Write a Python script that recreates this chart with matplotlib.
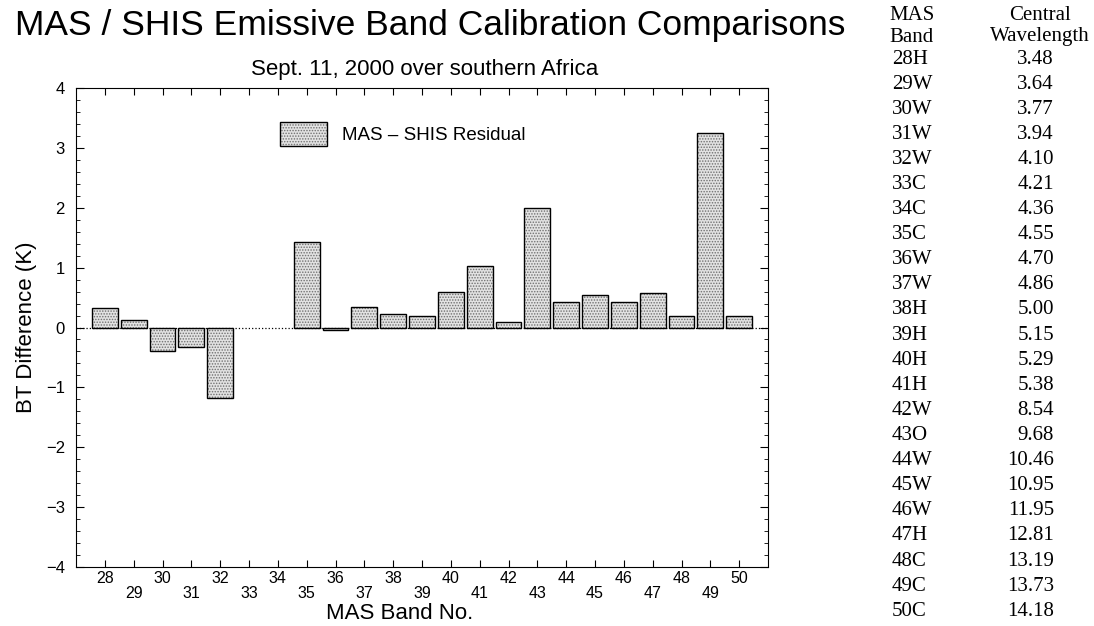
import matplotlib
matplotlib.use("Agg")
import matplotlib.pyplot as plt
from matplotlib.ticker import MultipleLocator
from matplotlib.legend_handler import HandlerTuple
import numpy as np

# MAS - SHIS residuals per MAS band (33 and 34 have no comparison)
bands = list(range(28, 51))
residual = [0.32, 0.13, -0.39, -0.33, -1.18, np.nan, np.nan, 1.42, -0.04,
            0.34, 0.22, 0.20, 0.60, 1.02, 0.10, 2.00, 0.42, 0.55, 0.42,
            0.58, 0.20, 3.25, 0.20]

table_bands = ["28H", "29W", "30W", "31W", "32W", "33C", "34C", "35C", "36W",
               "37W", "38H", "39H", "40H", "41H", "42W", "43O", "44W", "45W",
               "46W", "47H", "48C", "49C", "50C"]
table_wavelength = ["3.48", "3.64", "3.77", "3.94", "4.10", "4.21", "4.36",
                    "4.55", "4.70", "4.86", "5.00", "5.15", "5.29", "5.38",
                    "8.54", "9.68", "10.46", "10.95", "11.95", "12.81",
                    "13.19", "13.73", "14.18"]

plt.rcParams['font.family'] = ['Liberation Sans', 'DejaVu Sans']
plt.rcParams['hatch.linewidth'] = 0.7

W, H = 1094, 626
fig = plt.figure(figsize=(W / 100, H / 100), dpi=100)
ax = fig.add_axes([76 / W, 1 - 567 / H, (768 - 76) / W, (567 - 88) / H])

# stippled fill, then black outline on top
fill = ax.bar(bands, residual, width=0.9, color="#e2e2e2", edgecolor="#707070",
              hatch="......", linewidth=0, zorder=2)
outline = ax.bar(bands, residual, width=0.9, fill=False, edgecolor="black",
                 linewidth=1.0, zorder=3)
ax.axhline(0, color="black", linestyle=":", linewidth=0.9, zorder=1)

ax.set_xlim(27, 51)
ax.set_ylim(-4, 4)
ax.set_xticks(bands)
ax.set_xticklabels([str(b) if b % 2 == 0 else "\n" + str(b) for b in bands],
                   fontsize=11.5)
for lbl in ax.get_xticklabels():
    lbl.set_linespacing(0.95)
ax.yaxis.set_major_locator(MultipleLocator(1))
ax.yaxis.set_minor_locator(MultipleLocator(0.2))
ax.tick_params(axis="both", which="both", direction="in", top=True, right=True)
ax.tick_params(axis="x", which="major", length=5, pad=3)
ax.tick_params(axis="y", which="major", length=6, labelsize=12, pad=8)
ax.tick_params(axis="y", which="minor", length=3)

ax.set_xlabel("MAS Band No.", fontsize=16)
ax.xaxis.set_label_coords(0.468, -0.076)
ax.set_ylabel("BT Difference (K)", fontsize=16, labelpad=6)

ax.legend([(fill, outline)], ["MAS \u2013 SHIS Residual"],
          handler_map={tuple: HandlerTuple(ndivide=1)},
          loc="upper left", bbox_to_anchor=(0.27, 0.965), frameon=False,
          fontsize=13.5, handlelength=2.5, handleheight=1.6, handletextpad=0.8)

fig.text(15 / W, 1 - 26 / H, "MAS / SHIS Emissive Band Calibration Comparisons",
         fontsize=25.5, ha="left", va="center")
fig.text(425 / W, 1 - 70 / H, "Sept. 11, 2000 over southern Africa",
         fontsize=16, ha="center", va="center")

# band / wavelength table on the right
serif = ['Liberation Serif', 'DejaVu Serif']
fs = 15
fig.text(912 / W, 1 - 15 / H, "MAS", family=serif, fontsize=fs, ha="center", va="center")
fig.text(912 / W, 1 - 37 / H, "Band", family=serif, fontsize=fs, ha="center", va="center")
fig.text(1040 / W, 1 - 15 / H, "Central", family=serif, fontsize=fs, ha="center", va="center")
fig.text(1040 / W, 1 - 37 / H, "Wavelength", family=serif, fontsize=fs, ha="center", va="center")
for i, (b, wl) in enumerate(zip(table_bands, table_wavelength)):
    y = 1 - (59 + i * 25.1) / H
    fig.text(892 / W, y, b, family=serif, fontsize=fs, ha="left", va="center")
    fig.text(1054 / W, y, wl, family=serif, fontsize=fs, ha="right", va="center")

fig.savefig("out.png", dpi=100)
